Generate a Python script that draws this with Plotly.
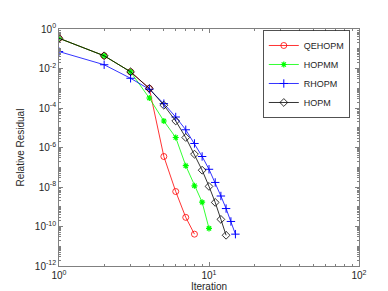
import plotly.graph_objects as go

iter_qehopm = [1, 2, 3, 4, 5, 6, 7, 8]
res_qehopm = [3.4e-1, 4.4e-2, 6.8e-3, 9.8e-4, 3.5e-7, 5.9e-9, 2.9e-10, 4.1e-11]

iter_hopmm = [1, 2, 3, 4, 5, 6, 7, 8, 9, 10]
res_hopmm = [3.4e-1, 4.4e-2, 6.8e-3, 3.2e-4, 2.2e-5, 3.2e-6, 1.2e-7, 1.15e-8, 1.7e-9, 8.0e-11]

iter_rhopm = [1, 2, 3, 4, 5, 6, 7, 8, 9, 10, 11, 12, 13, 14, 15]
res_rhopm = [7.2e-2, 1.55e-2, 3.2e-3, 8.9e-4, 1.66e-4, 3.5e-5, 7.9e-6, 1.6e-6, 3.5e-7,
             7.9e-8, 1.7e-8, 3.5e-9, 8.1e-10, 1.8e-10, 4.1e-11]

iter_hopm = [1, 2, 3, 4, 5, 6, 7, 8, 9, 10, 11, 12, 13]
res_hopm = [3.4e-1, 4.4e-2, 6.8e-3, 9.8e-4, 1.38e-4, 2.2e-5, 3.2e-6, 4.6e-7, 7.1e-8,
            1.07e-8, 1.66e-9, 2.3e-10, 3.6e-11]

y_tick_vals = [1e0, 1e-2, 1e-4, 1e-6, 1e-8, 1e-10, 1e-12]
y_tick_text = ["10<sup>0</sup>", "10<sup>-2</sup>", "10<sup>-4</sup>", "10<sup>-6</sup>",
               "10<sup>-8</sup>", "10<sup>-10</sup>", "10<sup>-12</sup>"]
x_tick_vals = [1, 10, 100]
x_tick_text = ["10<sup>0</sup>", "10<sup>1</sup>", "10<sup>2</sup>"]

# minor tick positions (axis decoration only)
x_minor = [m * 10 ** k for k in range(0, 2) for m in range(2, 10)]
y_minor = [m * 10.0 ** k for k in range(-12, 0) for m in range(1, 10)]

fig = go.Figure()
fig.add_trace(go.Scatter(x=iter_qehopm, y=res_qehopm, name="QEHOPM", mode="lines+markers",
                         line=dict(color="#ff0000", width=0.8),
                         marker=dict(symbol="circle-open", size=6, color="#ff0000", line=dict(width=0.8))))
fig.add_trace(go.Scatter(x=iter_hopmm, y=res_hopmm, name="HOPMM", mode="lines+markers",
                         line=dict(color="#00ff00", width=0.8),
                         marker=dict(symbol="asterisk-open", size=5, color="#00ff00", line=dict(width=1.2, color="#00ff00"))))
fig.add_trace(go.Scatter(x=iter_rhopm, y=res_rhopm, name="RHOPM", mode="lines+markers",
                         line=dict(color="#0000ff", width=0.8),
                         marker=dict(symbol="cross-thin-open", size=6, color="#0000ff", line=dict(width=1, color="#0000ff"))))
fig.add_trace(go.Scatter(x=iter_hopm, y=res_hopm, name="HOPM", mode="lines+markers",
                         line=dict(color="#000000", width=0.8),
                         marker=dict(symbol="diamond-open", size=6, color="#000000", line=dict(width=0.8))))

axis_common = dict(type="log", showgrid=False, zeroline=False, showline=True, linecolor="#808080",
                   linewidth=0.8, mirror="allticks", ticks="inside", ticklen=4, tickcolor="#808080",
                   tickwidth=0.8, tickfont=dict(size=10, color="#262626"), automargin=False)

fig.update_xaxes(**axis_common, range=[0, 2], tickmode="array", tickvals=x_tick_vals, ticktext=x_tick_text,
                 minor=dict(ticks="inside", ticklen=2, tickcolor="#808080", tickwidth=0.8,
                            tickmode="array", tickvals=x_minor),
                 title=dict(text="Iteration", font=dict(size=10, color="#262626"), standoff=2))
fig.update_yaxes(**axis_common, range=[-12, 0], tickmode="array", tickvals=y_tick_vals, ticktext=y_tick_text,
                 minor=dict(ticks="inside", ticklen=2, tickcolor="#808080", tickwidth=0.8,
                            tickmode="array", tickvals=y_minor),
                 title=dict(text="Relative Residual", font=dict(size=10, color="#262626"), standoff=8))

fig.update_layout(
    width=388, height=291,
    margin=dict(l=51, r=37, t=21, b=33),
    paper_bgcolor="white", plot_bgcolor="white",
    font=dict(family="Liberation Sans, Arial, sans-serif", size=9, color="#262626"),
    showlegend=True,
    legend=dict(x=0.97, y=0.995, xanchor="right", yanchor="top", bgcolor="white",
                bordercolor="#262626", borderwidth=0.8, font=dict(size=9, color="#262626"),
                itemwidth=30, tracegroupgap=0, itemsizing="trace"),
)

fig.write_html("out.html")
